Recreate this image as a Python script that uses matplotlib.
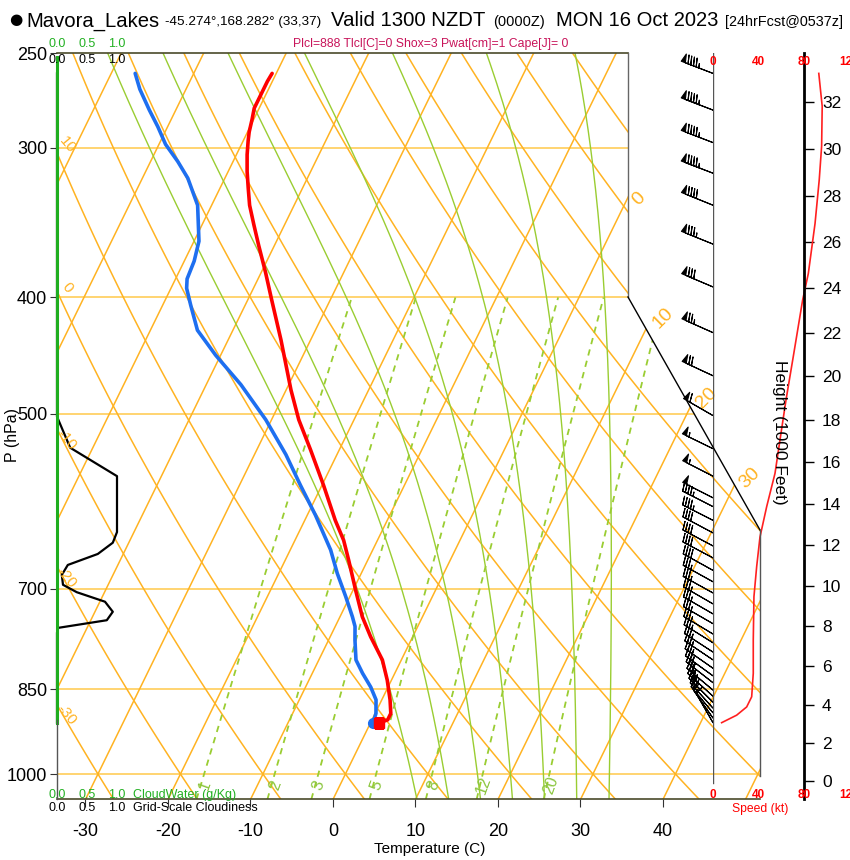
import numpy as np
import matplotlib
matplotlib.use("Agg")
import matplotlib.pyplot as plt
from matplotlib import transforms
from matplotlib.patches import Polygon
from matplotlib.lines import Line2D
from matplotlib.ticker import NullLocator

plt.rcParams['font.family'] = ['Liberation Sans', 'DejaVu Sans']

# ---------------- data ----------------
p_temp = [907, 901, 890, 867, 835, 803, 768, 739, 702, 663, 638, 614, 574, 536, 506, 478,
          434, 401, 381, 362, 348, 335, 324, 314, 304, 296, 291, 284, 278, 271, 264, 260]
temp = [1.0, 1.9, 1.9, 1.0, -0.5, -2.3, -5.1, -7.3, -9.7, -12.3, -14.1, -16.3, -19.8, -23.5,
        -26.7, -29.4, -33.6, -37.2, -39.5, -41.9, -43.7, -45.4, -46.6, -47.7, -48.7, -49.4,
        -49.8, -50.2, -50.6, -50.6, -50.6, -50.5]
p_dew = [906, 890, 867, 846, 824, 803, 773, 753, 739, 711, 680, 650, 608, 574, 541, 506,
         473, 447, 426, 406, 393, 386, 373, 359, 335, 318, 308, 298, 288, 279, 268, 260]
dewp = [0.3, 0.1, -0.7, -2.1, -3.9, -5.5, -6.8, -7.6, -8.5, -10.5, -12.9, -15.1, -19.0,
        -22.6, -26.2, -30.7, -35.8, -40.6, -44.3, -46.6, -48.1, -48.6, -48.8, -49.4, -51.7,
        -54.5, -56.7, -59.2, -61.2, -63.2, -65.6, -67.1]

p_cloud = [906, 762, 755, 744, 732, 718, 705, 695, 682, 669, 655, 641, 628, 564, 534, 503, 260]
cloudiness = [0.0, 0.0, 0.02, 0.83, 0.93, 0.80, 0.33, 0.10, 0.08, 0.18, 0.68, 0.93, 1.0, 1.0,
              0.22, 0.0, 0.0]
p_cwater = [906, 800, 700, 600, 500, 400, 300, 252]
cloudwater = [0, 0, 0, 0, 0, 0, 0, 0]

p_speed = [906, 893, 879, 862, 824, 773, 711, 671, 634, 598, 561, 526, 487, 448, 402, 382,
           347, 319, 299, 277, 260]
speed = [7.6, 20.8, 29.6, 34.0, 35.4, 35.4, 36.0, 38.4, 41.3, 47.2, 54.5, 58.9, 64.2, 70.6,
         78.8, 83.8, 89.7, 93.4, 95.5, 96.0, 93.0]

p_barb = [906, 898, 889, 881, 871, 861, 851, 839, 828, 816, 803, 791, 777, 764, 749, 735,
          721, 706, 691, 676, 660, 645, 629, 614, 598, 588, 564, 535, 502, 465, 428, 392,
          361, 335, 315, 297, 279, 260]
spd_barb = [8, 14, 22, 28, 32, 34, 35, 35, 35, 35, 35, 35, 35, 35, 35, 36, 36, 36, 37, 38,
            39, 40, 42, 44, 47, 49, 54, 57, 62, 68, 73, 81, 87, 91, 93, 95, 96, 93]
dir_barb = [330, 325, 320, 318, 315, 312, 310, 308, 306, 305, 304, 303, 302, 301, 300, 300,
            300, 299, 299, 299, 298, 298, 298, 297, 297, 297, 297, 296, 300, 295, 294, 293,
            292, 292, 291, 291, 291, 291]

isobars = [300, 400, 500, 700, 850, 1000]
p_ticks = [1000, 850, 700, 500, 400, 300, 250]
t_ticks = [-30, -20, -10, 0, 10, 20, 30, 40]
isotherms = list(range(-120, 60, 10))
dry_adiabats = list(range(-40, 200, 10))
moist_adiabats = [8, 12, 16, 20, 24, 28, 32]
mix_ratios = [1, 2, 3, 5, 8, 12, 20]
height_ticks = list(range(0, 34, 2))
speed_labels = [0, 40, 80, 120]

# ---------------- layout ----------------
W, H = 850, 860
fig = plt.figure(figsize=(W / 100, H / 100), dpi=100)
PX_L, PX_R, PX_T, PX_B = 57.0, 760.0, 53.0, 799.4
X0, DEG, SKEW = 333.0, 8.25, 0.49


def rect(l, r, t, b):
    return [l / W, 1 - b / H, (r - l) / W, (b - t) / H]


def ptext(x, y, s, **kw):
    return fig.text(x / W, 1 - y / H, s, **kw)


def pline(xs, ys, **kw):
    fig.add_artist(Line2D([x / W for x in xs], [1 - y / H for y in ys],
                          transform=fig.transFigure, **kw))


ax = fig.add_axes(rect(PX_L, PX_R, PX_T, PX_B))
ax.set_yscale('log')
ax.set_ylim(1050, 250)
ax.set_xlim((PX_L - X0) / DEG, (PX_R - X0) / DEG)
ax.set_autoscale_on(False)
for s in ax.spines.values():
    s.set_visible(False)
ax.patch.set_visible(False)

skew = (transforms.Affine2D().translate(0, -(H - PX_B))
        .skew(np.arctan(SKEW), 0).translate(0, H - PX_B))
tsk = ax.transData + skew

clip_px = [(57, 53), (628, 53), (628, 297), (760, 530), (760, 799.4), (57, 799.4)]
clip = Polygon([(x, H - y) for x, y in clip_px], closed=True,
               transform=transforms.IdentityTransform())


def sline(T, p, **kw):
    ln, = ax.plot(T, p, transform=tsk, **kw)
    ln.set_clip_path(clip)
    return ln


ORANGE = '#FFB322'
YGREEN = '#9ACD32'

# isobars
for pb in isobars:
    ln, = ax.plot([-60, 80], [pb, pb], color='#FFC94A', lw=1.1)
    ln.set_clip_path(clip)

# isotherms
for t in isotherms:
    sline([t, t], [1050, 250], color=ORANGE, lw=1.1)

# dry adiabats
pp = np.geomspace(1050, 250, 120)
for th in dry_adiabats:
    sline((th + 273.15) * (pp / 1000.0) ** 0.2857 - 273.15, pp, color=ORANGE, lw=1.1)


# moist adiabats
def es(Tk):
    return 6.112 * np.exp(17.67 * (Tk - 273.15) / (Tk - 29.65))


def dTdp(Tk, p):
    Rd, cp, Lv, eps = 287.04, 1005.7, 2.501e6, 0.622
    e = es(Tk)
    rs = eps * e / (p - e)
    return (Rd * Tk + Lv * rs) / (p * (cp + Lv * Lv * rs * eps / (Rd * Tk * Tk)))


def integrate(T0, p_start, p_end, dp):
    ps = np.arange(p_start, p_end + dp * 0.5, dp)
    Ts = [T0]
    for i in range(len(ps) - 1):
        p, Tk, h = ps[i], Ts[-1], dp
        k1 = dTdp(Tk, p)
        k2 = dTdp(Tk + 0.5 * h * k1, p + 0.5 * h)
        k3 = dTdp(Tk + 0.5 * h * k2, p + 0.5 * h)
        k4 = dTdp(Tk + h * k3, p + h)
        Ts.append(Tk + h * (k1 + 2 * k2 + 2 * k3 + k4) / 6)
    return ps, np.array(Ts)


for tw in moist_adiabats:
    pu, tu = integrate(tw + 273.15, 1000.0, 250.0, -5.0)
    pd, td = integrate(tw + 273.15, 1000.0, 1050.0, 5.0)
    pall = np.concatenate([pd[::-1], pu[1:]])
    tall = np.concatenate([td[::-1], tu[1:]]) - 273.15
    sline(tall, pall, color=YGREEN, lw=1.0)

# mixing ratio lines
pm = np.geomspace(1050, 400, 60)
for w in mix_ratios:
    e = w * pm / (622.0 + w)
    lg = np.log(e / 6.112)
    td = 243.5 * lg / (17.67 - lg)
    sline(td, pm, color=YGREEN, lw=1.3, ls=(0, (3.5, 3)))
    e2 = w * 1022.0 / (622.0 + w)
    lg2 = np.log(e2 / 6.112)
    td2 = 243.5 * lg2 / (17.67 - lg2)
    ax.text(td2, 1022, str(w), transform=transforms.offset_copy(tsk, fig, x=4, y=0, units='dots'),
            color='#8CC63F', fontsize=11.5, rotation=70, ha='center', va='center')

# profiles
sline(dewp, p_dew, color='#1E6FF0', lw=2.6, solid_capstyle='round')
sline(temp, p_temp, color='#FF0000', lw=2.6, solid_capstyle='round')
sline([dewp[0]], [p_dew[0]], marker='o', ms=7, color='#1E6FF0', ls='none')
sline([temp[0]], [p_temp[0]], marker='s', ms=6.5, color='#FF0000', ls='none')

# isotherm labels (right side)
for t, plab in [(0, 331), (10, 416), (20, 485), (30, 566)]:
    ax.text(t, plab, str(t), transform=transforms.offset_copy(tsk, fig, x=12, y=0, units='dots'),
            color=ORANGE, fontsize=14, rotation=45, ha='center', va='center')

# dry adiabat labels (left)
for lab, yy in [('10', 145), ('0', 288), ('-10', 440), ('-20', 578), ('-30', 715)]:
    ptext(67, yy, lab, color=ORANGE, fontsize=11, rotation=-50, ha='center', va='center')

# pressure / temperature axes
ax.yaxis.set_minor_locator(NullLocator())
ax.set_yticks(p_ticks)
ax.set_yticklabels([str(v) for v in p_ticks])
ax.tick_params(axis='y', direction='out', length=5, labelsize=13, pad=2, color='#333333')
ax.set_xticks(t_ticks)
ax.set_xticklabels([str(v) for v in t_ticks])
ax.tick_params(axis='x', direction='out', length=6, labelsize=13, pad=11, color='#333333')
ptext(430, 849, 'Temperature (C)', fontsize=11, ha='center', va='center')
ptext(12, 435, 'P (hPa)', fontsize=11.5, rotation=90, ha='center', va='center')

# cloud axes
axc = fig.add_axes(rect(PX_L, PX_R, PX_T, PX_B))
axc.set_yscale('log')
axc.set_ylim(1050, 250)
axc.set_xlim(0, (PX_R - PX_L) / 60.0)
axc.axis('off')
axc.plot(cloudiness, p_cloud, color='black', lw=1.6, clip_on=False)
axc.plot(cloudwater, p_cwater, color='#1FAE1F', lw=2.2, clip_on=False)

# frame
OL = '#4A4A2A'
pline([57, 628], [53, 53], color=OL, lw=1.2)
pline([628, 628], [53, 297], color='#666666', lw=1)
pline([628, 760], [297, 530], color='black', lw=1)
pline([760, 760], [530, 776], color='#555555', lw=1)
pline([57, 760], [799, 799], color=OL, lw=1.2)
pline([57, 57], [720, 799], color='#555555', lw=1)

# cloud axis labels
for xx, s in [(57, '0.0'), (87, '0.5'), (117, '1.0')]:
    ptext(xx, 44, s, color='#22B022', fontsize=9, ha='center', va='center')
    ptext(xx, 60, s, color='black', fontsize=9, ha='center', va='center')
    ptext(xx, 795, s, color='#22B022', fontsize=9, ha='center', va='center')
    ptext(xx, 808, s, color='black', fontsize=9, ha='center', va='center')
ptext(133, 795, 'CloudWater (g/Kg)', color='#22B022', fontsize=9, ha='left', va='center')
ptext(133, 808, 'Grid-Scale Cloudiness', color='black', fontsize=9, ha='left', va='center')

# wind axes
axw = fig.add_axes(rect(713, 849.5, PX_T, PX_B))
axw.set_yscale('log')
axw.set_ylim(1050, 250)
axw.set_xlim(0, 120)
axw.patch.set_visible(False)
for k in ['left', 'top', 'bottom']:
    axw.spines[k].set_visible(False)
axw.spines['right'].set_position(('data', 80))
axw.spines['right'].set_linewidth(2)
axw.xaxis.set_visible(False)
axw.yaxis.tick_right()
axw.yaxis.set_minor_locator(NullLocator())
h_m = np.array(height_ticks) * 304.8
p_h = 1013.25 * (1 - 0.0065 * h_m / 288.15) ** 5.2559
axw.set_yticks(p_h)
axw.set_yticklabels([str(v) for v in height_ticks])
axw.tick_params(axis='y', direction='out', length=7, width=1, labelsize=12.5, pad=6)
axw.axvline(0, ymin=(PX_B - 783) / (PX_B - PX_T), ymax=1, color='#555555', lw=1)
axw.plot(speed, p_speed, color='#FF2020', lw=1.2)

d = np.deg2rad(np.array(dir_barb))
u = -np.array(spd_barb) * np.sin(d)
v = -np.array(spd_barb) * np.cos(d)
axw.barbs(np.zeros(len(p_barb)), p_barb, u, v, length=7.0, pivot='tip', color='black',
          lw=0.8, clip_on=False, sizes=dict(spacing=0.085, height=0.25, width=0.13))

for sv in speed_labels:
    xx = 713 + sv * 45.5 / 40
    ptext(xx, 62, str(sv), color='#FF0000', fontsize=8.5, fontweight='bold', ha='center', va='center')
    ptext(xx, 795, str(sv), color='#FF0000', fontsize=8.5, fontweight='bold', ha='center', va='center')
ptext(760, 809, 'Speed (kt)', color='#FF0000', fontsize=8.7, ha='center', va='center')
ptext(780, 432, 'Height (1000 Feet)', fontsize=12.5, rotation=-90, ha='center', va='center')

# title
ptext(16, 20, '\u25CF', fontsize=11, ha='center', va='center', family=['DejaVu Sans'])
ptext(26, 21, 'Mavora_Lakes', fontsize=14.6, ha='left', va='center')
ptext(165, 22, '-45.274\u00b0,168.282\u00b0 (33,37)', fontsize=9.7, ha='left', va='center')
ptext(331, 21, 'Valid 1300 NZDT', fontsize=14.7, ha='left', va='center')
ptext(493, 22, '(0000Z)', fontsize=10.5, ha='left', va='center')
ptext(556, 21, 'MON 16 Oct 2023', fontsize=14.5, ha='left', va='center')
ptext(725, 22, '[24hrFcst@0537z]', fontsize=10.4, ha='left', va='center')
ptext(431, 44, 'Plcl=888 Tlcl[C]=0 Shox=3 Pwat[cm]=1 Cape[J]= 0', color='#C8145A',
      fontsize=8.8, ha='center', va='center')

fig.savefig('out.png', dpi=100)
